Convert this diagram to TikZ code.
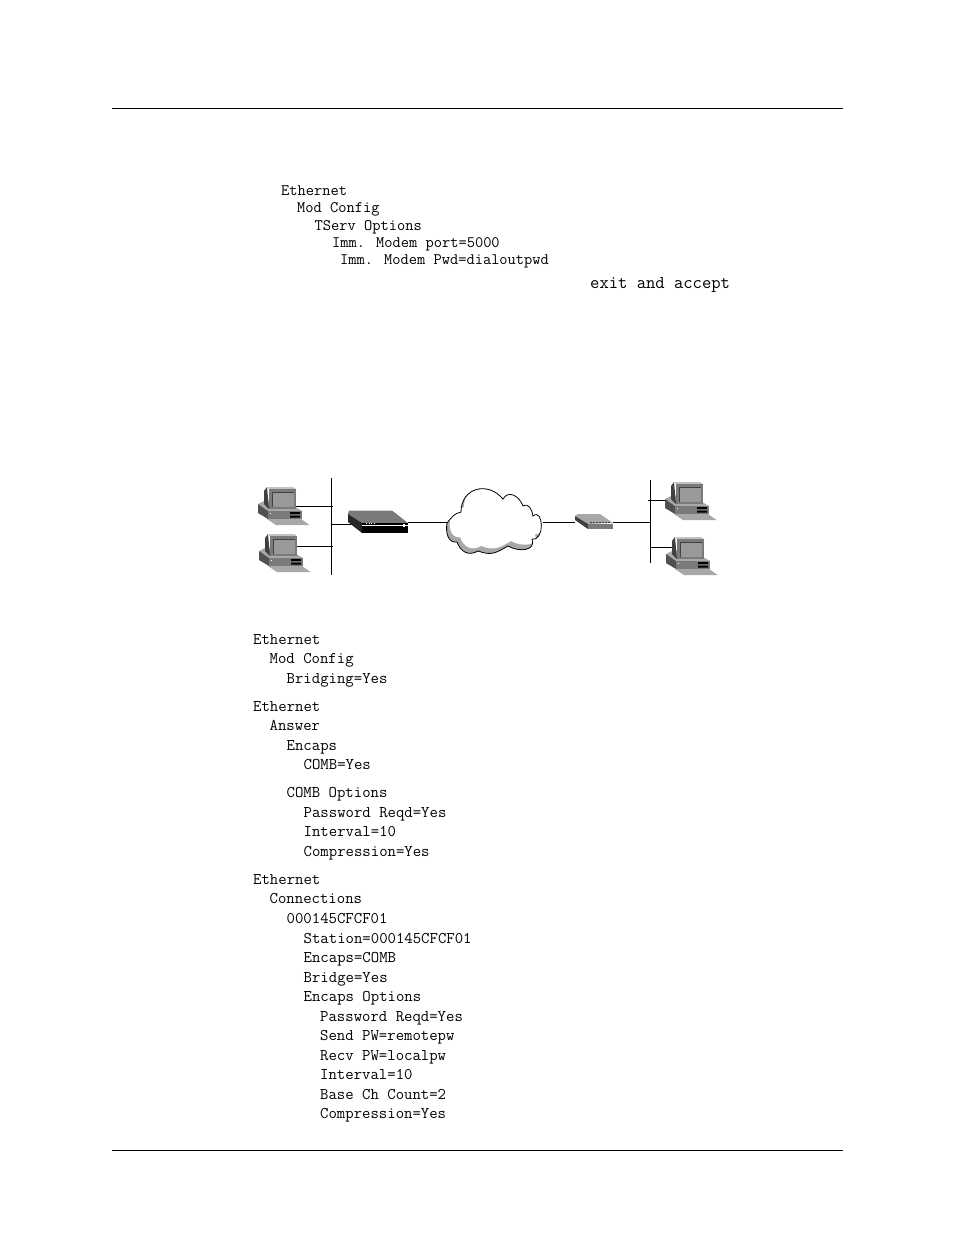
\documentclass[tikz,border=0pt]{standalone}
\usetikzlibrary{calc}
\definecolor{pcdark}{gray}{0.25}
\definecolor{pcmid}{gray}{0.48}
\definecolor{pclight}{gray}{0.66}
\definecolor{pcscreen}{gray}{0.6}
\newcommand{\cloudoutline}{(447,523) to[out=50,in=190] (461,512) to[out=90,in=130,looseness=1.4] (503,499) to[out=60,in=110,looseness=1.3] (523,506) to[out=30,in=100,looseness=1.2] (533,516) to[out=40,in=-10,looseness=1.5] (532,539) to[out=-70,in=-30,looseness=1.3] (508,546) to[out=-150,in=-20,looseness=1.2] (478,551) to[out=-150,in=-70,looseness=1.2] (457,542) to[out=-170,in=-100,looseness=1.1] cycle}
\begin{document}
\begin{tikzpicture}[x=1pt,y=-1pt,
    rule/.style={line width=0.8pt},
    link/.style={line width=1pt},
    cfg/.style={font={\fontsize{16.3}{18}\selectfont\ttfamily},anchor=base west,inner sep=0pt,yshift=-1.2pt},
    cfgtop/.style={cfg,font={\fontsize{16}{18}\selectfont\ttfamily}},
    pc/.pic={
        \fill[pclight] (9,32)--(43,32)--(51.5,38)--(18,38)--cycle;
        \fill[pclight] (0,17)--(8,13)--(37,20)--(44,24)--(10,24)--cycle;
        \fill[pcdark!70!pcmid] (0,17)--(10,24)--(10,32)--(0,26)--cycle;
        \fill[pcmid] (10,24)--(44,24)--(44,32)--(10,32)--cycle;
        \fill[black] (32,25) rectangle (42,27) (32,28.5) rectangle (42,30.5);
        \fill[white] (11.5,26) rectangle (12.5,27);
        \fill[pcdark] (6,4)--(9,0)--(11,22)--(6,17)--cycle;
        \fill[pclight!70!white] (9,0)--(35,0)--(38,2)--(11,2)--cycle;
        \fill[pcmid] (11,2) rectangle (38,22);
        \fill[pcscreen] (14,5) rectangle (36,20);
        \draw[pcdark,line width=0.6pt] (14,20)--(14,5)--(36,5);
        \coordinate (-port) at (38,19);
    },
    routerbox/.pic={
        \fill[pcmid] (0,4)--(1,0.5)--(44,0.5)--(60,13)--(14,13)--cycle;
        \fill[pcdark!60!black] (0,4)--(14,13)--(14,23)--(0,12)--cycle;
        \fill[black] (14,13) rectangle (60,23);
        \fill[white] (14,15) rectangle (60,15.7);
        \draw[white,line width=0.7pt,dash pattern=on 1pt off 1.5pt] (18,13.8)--(26,13.8);
        \fill[white] (55,13.5) rectangle (56.5,16.5);
        \coordinate (-west) at (3,14);
        \coordinate (-east) at (60,12);
    },
    modembox/.pic={
        \fill[pclight] (0,3)--(3,1)--(25,1)--(38,10)--(13,11)--cycle;
        \fill[pcdark] (0,3)--(13,11)--(13,16)--(0,7)--cycle;
        \fill[pcmid] (13,11) rectangle (38,16);
        \draw[pcdark,line width=0.8pt,dash pattern=on 2pt off 1pt] (15,9.5)--(35,9.5);
        \coordinate (-west) at (0,9);
        \coordinate (-east) at (38,9);
    }]
\useasboundingbox (0,0) rectangle (954,1235);
\fill[white] (0,0) rectangle (954,1235);
% page rules
\coordinate (topL) at (112,108.5);
\coordinate (topR) at (843,108.5);
\coordinate (botL) at (112,1150);
\coordinate (botR) at (843,1150);
\draw[rule] (topL)--(topR);
\draw[rule] (botL)--(botR);
% first listing
\node[cfgtop] (a1) at (281,194) {Ethernet};
\node[cfgtop] (a2) at (297,211) {Mod Config};
\node[cfgtop] (a3) at (314.5,229) {TServ Options};
\node[cfgtop] (a4) at (332,246) {Imm. Modem port=5000};
\node[cfgtop] (a5) at (340,263) {Imm. Modem Pwd=dialoutpwd};
\node[cfg,font={\fontsize{18.1}{20}\selectfont\ttfamily}] (a6) at (590,287) {exit and accept};
% network
\coordinate (busLtop) at (331.5,478);
\coordinate (busLbot) at (331.5,575);
\coordinate (busRtop) at (650,480);
\coordinate (busRbot) at (650,563);
\coordinate (cloudW) at (447,522);
\coordinate (cloudE) at (543,522);
\coordinate (tapA) at (333,506);
\coordinate (tapB) at (333,546);
\coordinate (tapC) at (648,500);
\coordinate (tapD) at (650,547);
\coordinate (portB) at (297,546);
\coordinate (portC) at (672,500);
\coordinate (portD) at (676,547);
\draw[link] (tapC)--(portC);
\draw[link] (tapD)--(portD);
\pic (pcA) at (258,487) {pc};
\pic (pcB) at (259,534) {pc};
\pic (pcC) at (665,482) {pc};
\pic (pcD) at (666,537) {pc};
\pic (router) at (348,510) {routerbox};
\pic (modem) at (575,513) {modembox};
\draw[link] (busLtop)--(busLbot);
\draw[link] (busRtop)--(busRbot);
\draw[link] (pcA-port)--(tapA);
\draw[link] (portB)--(tapB);
\draw[link] (router-west)--(router-west-|busLtop);
\draw[link] (router-east|-cloudW)--(cloudW);
\draw[link] (cloudE)--(modem-west);
\draw[link] (modem-east)--(modem-east-|busRtop);
\fill[pclight] \cloudoutline;
\begin{scope}
\clip \cloudoutline;
\fill[white,shift={(3,-5)}] \cloudoutline;
\end{scope}
\draw[line width=0.8pt] \cloudoutline;
% second listing
\node[cfg] (b1) at (253,643) {Ethernet};
\node[cfg] (b2) at (269.5,662) {Mod Config};
\node[cfg] (b3) at (286.5,682) {Bridging=Yes};
\node[cfg] (c1) at (253,710) {Ethernet};
\node[cfg] (c2) at (269.5,729) {Answer};
\node[cfg] (c3) at (286.5,749) {Encaps};
\node[cfg] (c4) at (303.5,768) {COMB=Yes};
\node[cfg] (c5) at (286.5,796) {COMB Options};
\node[cfg] (c6) at (303.5,816) {Password Reqd=Yes};
\node[cfg] (c7) at (303.5,835) {Interval=10};
\node[cfg] (c8) at (303.5,855) {Compression=Yes};
\node[cfg] (d1) at (253,883) {Ethernet};
\node[cfg] (d2) at (269.5,902) {Connections};
\node[cfg] (d3) at (286.5,922) {000145CFCF01};
\node[cfg] (d4) at (303.5,942) {Station=000145CFCF01};
\node[cfg] (d5) at (303.5,961) {Encaps=COMB};
\node[cfg] (d6) at (303.5,981) {Bridge=Yes};
\node[cfg] (d7) at (303.5,1000) {Encaps Options};
\node[cfg] (d8) at (320,1020) {Password Reqd=Yes};
\node[cfg] (d9) at (320,1039) {Send PW=remotepw};
\node[cfg] (d10) at (320,1059) {Recv PW=localpw};
\node[cfg] (d11) at (320,1078) {Interval=10};
\node[cfg] (d12) at (320,1098) {Base Ch Count=2};
\node[cfg] (d13) at (320,1117) {Compression=Yes};
\end{tikzpicture}
\end{document}
